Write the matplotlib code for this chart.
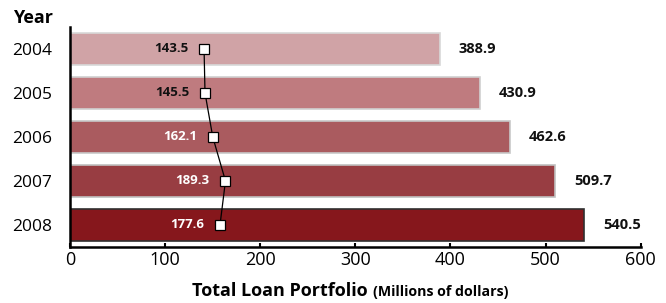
import matplotlib
matplotlib.use("Agg")
import matplotlib.pyplot as plt

years = ["2004", "2005", "2006", "2007", "2008"]
portfolio = [388.9, 430.9, 462.6, 509.7, 540.5]
line_values = [143.5, 145.5, 162.1, 189.3, 177.6]
bar_colors = ["#D0A3A6", "#BF7B7F", "#AA5B5F", "#983D42", "#86171C"]
edge_colors = ["#D8D8D8", "#D0D0D0", "#C8C8C8", "#C0C0C0", "#303030"]
line_label_colors = ["#111111", "#111111", "white", "white", "white"]
xticks = [0, 100, 200, 300, 400, 500, 600]

plt.rcParams['font.family'] = ['Open Sans', 'DejaVu Sans']

fig = plt.figure(figsize=(6.66, 3.03), dpi=100)
ax = fig.add_axes([0.105, 0.185, 0.857, 0.726])

ypos = list(range(len(years)))
ax.barh(ypos, portfolio, height=0.71, color=bar_colors, edgecolor=edge_colors,
        linewidth=1.2, zorder=2)
ax.set_xlim(0, 600)
ax.set_ylim(4.5, -0.5)
ax.set_yticks(ypos)
ax.set_yticklabels(years, fontsize=12.5)
ax.set_xticks(xticks)
ax.set_xticklabels([str(t) for t in xticks], fontsize=13)
ax.tick_params(axis='y', direction='in', length=9.5, width=1.6, color='#5e0c12', pad=13)
ax.tick_params(axis='x', direction='in', length=3, width=1.5, color='black', pad=3)
for sp in ['top', 'right']:
    ax.spines[sp].set_visible(False)
for sp in ['left', 'bottom']:
    ax.spines[sp].set_linewidth(1.8)
    ax.spines[sp].set_zorder(5)

for y, v in zip(ypos, portfolio):
    ax.annotate(f"{v:.1f}", xy=(v, y), xytext=(19, 0), textcoords='offset pixels',
                ha='left', va='center', fontsize=10.5, fontweight='bold', color='#111111')

# secondary scale for the line
ax2 = ax.twiny()
ax2.set_xlim(-143.6, 1078)
ax2.set_ylim(4.5, -0.5)
ax2.axis('off')
ax2.plot(line_values, ypos, color='black', linewidth=0.9, marker='s', markersize=7.5,
         markerfacecolor='white', markeredgecolor='black', markeredgewidth=0.9, zorder=6)
for y, v, c in zip(ypos, line_values, line_label_colors):
    ax2.annotate(f"{v:.1f}", xy=(v, y), xytext=(-16, 0), textcoords='offset pixels',
                 ha='right', va='center', fontsize=9.5, fontweight='bold', color=c)

fig.text(0.019, 0.94, "Year", fontsize=13, fontweight='bold', ha='left', va='center')

fig.text(0.5526, 0.04, "Total Loan Portfolio", fontsize=13, fontweight='bold',
         ha='right', va='center')
fig.text(0.56, 0.035, "(Millions of dollars)", fontsize=10.2, fontweight='bold',
         ha='left', va='center')

fig.savefig("out.png", dpi=100)
